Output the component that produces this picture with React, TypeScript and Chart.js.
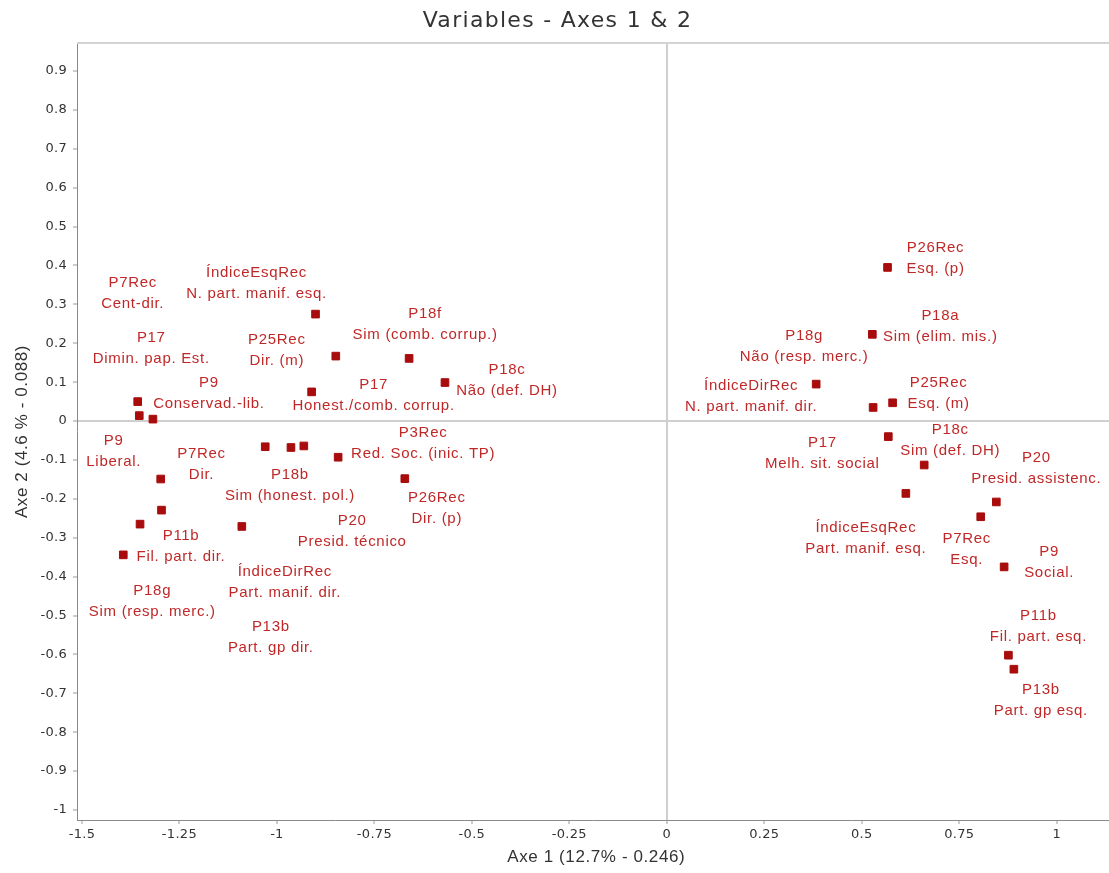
import React, { useEffect, useRef } from 'react';
import { Chart, registerables } from 'chart.js';

Chart.register(...registerables);

// ---------- DATA ----------
const chartTitle = 'Variables - Axes 1 & 2';
const xAxisTitle = 'Axe 1 (12.7% - 0.246)';
const yAxisTitle = 'Axe 2 (4.6 % - 0.088)';

const variableNames = [
  'ÍndiceEsqRec', 'P25Rec', 'P18f', 'P18c', 'P17', 'P7Rec', 'P17', 'P9', 'P20',
  'P18b', 'P13b', 'P3Rec', 'P26Rec', 'P9', 'P7Rec', 'P11b', 'ÍndiceDirRec', 'P18g',
  'P26Rec', 'P18a', 'ÍndiceDirRec', 'P18g', 'P25Rec', 'P17', 'P18c', 'ÍndiceEsqRec',
  'P20', 'P7Rec', 'P9', 'P11b', 'P13b',
];

const categoryNames = [
  'N. part. manif. esq.', 'Dir. (m)', 'Sim (comb. corrup.)', 'Não (def. DH)',
  'Honest./comb. corrup.', 'Cent-dir.', 'Dimin. pap. Est.', 'Conservad.-lib.',
  'Presid. técnico', 'Sim (honest. pol.)', 'Part. gp dir.', 'Red. Soc. (inic. TP)',
  'Dir. (p)', 'Liberal.', 'Dir.', 'Fil. part. dir.', 'Part. manif. dir.',
  'Sim (resp. merc.)',
  'Esq. (p)', 'Sim (elim. mis.)', 'N. part. manif. dir.', 'Não (resp. merc.)',
  'Esq. (m)', 'Melh. sit. social', 'Sim (def. DH)', 'Part. manif. esq.',
  'Presid. assistenc.', 'Esq.', 'Social.', 'Fil. part. esq.', 'Part. gp esq.',
];

const axis1 = [
  -0.901, -0.849, -0.661, -0.569, -0.911, -1.357, -1.353, -1.318, -1.030,
  -0.964, -0.931, -0.843, -0.672, -1.298, -1.296, -1.351, -1.090, -1.394,
  0.566, 0.527, 0.383, 0.529, 0.579, 0.568, 0.660, 0.613, 0.845, 0.805, 0.865, 0.876, 0.890,
];

const axis2 = [
  0.275, 0.167, 0.161, 0.099, 0.075, 0.050, 0.014, 0.005, -0.066,
  -0.068, -0.064, -0.093, -0.148, -0.149, -0.229, -0.265, -0.271, -0.344,
  0.395, 0.223, 0.095, 0.035, 0.047, -0.040, -0.113, -0.186, -0.208, -0.246, -0.375, -0.602, -0.638,
];

const xTickValues = [-1.5, -1.25, -1, -0.75, -0.5, -0.25, 0, 0.25, 0.5, 0.75, 1];
const xTickLabels = ['-1.5', '-1.25', '-1', '-0.75', '-0.5', '-0.25', '0', '0.25', '0.5', '0.75', '1'];
const yTickValues = [-1, -0.9, -0.8, -0.7, -0.6, -0.5, -0.4, -0.3, -0.2, -0.1, 0, 0.1, 0.2, 0.3, 0.4, 0.5, 0.6, 0.7, 0.8, 0.9];
const yTickLabels = ['-1', '-0.9', '-0.8', '-0.7', '-0.6', '-0.5', '-0.4', '-0.3', '-0.2', '-0.1', '0', '0.1', '0.2', '0.3', '0.4', '0.5', '0.6', '0.7', '0.8', '0.9'];

// ---------- LAYOUT (label placement, pixel offsets of first line centre from point) ----------
const labelOffsets: [number, number][] = [
  [-59, -41], [-59, -16], [16, -45], [62, -13], [62, -7], [-5, -119], [12, -78], [56, -36], [87, 74],
  [-1, 27], [-33, 181], [85, -24], [32, 19], [-47, -38], [40, -56], [41, 12], [43, 45], [29, 36],
  [48, -20], [68, -18], [-65, 2], [-69, -72], [46, -20], [-66, 6], [26, -35], [-40, 34],
  [40, -44], [-14, 22], [45, -15], [30, -39], [27, 21],
];

const VIEW_W = 1109;
const VIEW_H = 873;
const CANVAS_W = 1116; // the extra 7px hold Chart.js' right padding and are clipped away
const LABEL_LINE_GAP = 21;
const POINT_COLOR = '#a80c0c';
const LABEL_COLOR = '#c02828';
const TEXT_COLOR = '#333333';

const overlayPlugin = {
  id: 'overlay',
  beforeDraw(chart: any) {
    chart.ctx.letterSpacing = '0.3px';
  },
  beforeDatasetsDraw(chart: any) {
    const { ctx, chartArea } = chart;
    ctx.save();
    ctx.strokeStyle = '#d4d4d4';
    ctx.lineWidth = 2;
    ctx.beginPath();
    ctx.moveTo(chartArea.left, chartArea.top);
    ctx.lineTo(chartArea.right, chartArea.top);
    ctx.stroke();
    ctx.restore();
  },
  afterDatasetsDraw(chart: any) {
    const { ctx } = chart;
    const meta = chart.getDatasetMeta(0);
    ctx.save();
    ctx.font = '15px "Liberation Sans", Arial, sans-serif';
    ctx.letterSpacing = '0.7px';
    ctx.fillStyle = LABEL_COLOR;
    ctx.textAlign = 'center';
    ctx.textBaseline = 'middle';
    meta.data.forEach((pt: any, i: number) => {
      const [dx, dy] = labelOffsets[i];
      ctx.fillText(variableNames[i], pt.x + dx, pt.y + dy);
      ctx.fillText(categoryNames[i], pt.x + dx, pt.y + dy + LABEL_LINE_GAP);
    });
    ctx.restore();
  },
  afterDraw(chart: any) {
    const { ctx, chartArea } = chart;
    ctx.save();
    ctx.fillStyle = TEXT_COLOR;
    ctx.textAlign = 'center';
    ctx.textBaseline = 'middle';
    ctx.font = '22px "DejaVu Sans", sans-serif';
    ctx.letterSpacing = '1.3px';
    ctx.fillText(chartTitle, VIEW_W / 2 + 3, chartArea.top / 2);
    ctx.font = '17px "Liberation Sans", Arial, sans-serif';
    ctx.letterSpacing = '0.6px';
    ctx.fillText(xAxisTitle, (chartArea.left + chartArea.right) / 2 + 3, chartArea.bottom + 37);
    ctx.translate(22, (chartArea.top + chartArea.bottom) / 2);
    ctx.rotate(-Math.PI / 2);
    ctx.fillText(yAxisTitle, 0, 0);
    ctx.restore();
    ctx.letterSpacing = '0px';
  },
};

export default function App() {
  const canvasRef = useRef<HTMLCanvasElement | null>(null);

  useEffect(() => {
    if (!canvasRef.current) return;
    const gridColor = (c: any) => (c.tick && c.tick.value === 0 ? '#cfcfcf' : 'rgba(0,0,0,0)');
    const gridWidth = (c: any) => (c.tick && c.tick.value === 0 ? 2 : 0);
    const chart = new Chart(canvasRef.current, {
      type: 'scatter',
      data: {
        datasets: [
          {
            data: axis1.map((x, i) => ({ x, y: axis2[i] })),
            pointStyle: 'rect',
            pointRadius: 5.4,
            pointBorderWidth: 1,
            backgroundColor: POINT_COLOR,
            borderColor: POINT_COLOR,
          },
        ],
      },
      options: {
        animation: false,
        responsive: false,
        layout: { padding: { top: 43, left: 0, right: 0, bottom: 0 } },
        plugins: {
          legend: { display: false },
          tooltip: { enabled: false },
          title: { display: false },
        },
        scales: {
          x: {
            type: 'linear',
            min: -1.5127,
            max: 1.1355,
            afterBuildTicks: (s: any) => {
              s.ticks = xTickValues.map((v) => ({ value: v }));
            },
            afterFit: (s: any) => {
              s.height = 53;
            },
            ticks: {
              callback: (_v: any, i: number) => xTickLabels[i],
              font: { family: '"DejaVu Sans", sans-serif', size: 13 },
              color: TEXT_COLOR,
              padding: 3,
              maxRotation: 0,
              autoSkip: false,
            },
            grid: {
              color: gridColor,
              lineWidth: gridWidth,
              drawTicks: true,
              tickLength: 4,
              tickColor: '#999999',
              tickWidth: 1,
            },
            border: { display: true, color: '#8a8a8a', width: 1 },
          },
          y: {
            type: 'linear',
            min: -1.0257,
            max: 0.972,
            afterBuildTicks: (s: any) => {
              s.ticks = yTickValues.map((v) => ({ value: v }));
            },
            afterFit: (s: any) => {
              s.width = 77;
            },
            ticks: {
              callback: (_v: any, i: number) => yTickLabels[i],
              font: { family: '"DejaVu Sans", sans-serif', size: 13 },
              color: TEXT_COLOR,
              padding: 6,
              autoSkip: false,
            },
            grid: {
              color: gridColor,
              lineWidth: gridWidth,
              drawTicks: true,
              tickLength: 4,
              tickColor: '#999999',
              tickWidth: 1,
            },
            border: { display: true, color: '#8a8a8a', width: 1 },
          },
        },
      },
      plugins: [overlayPlugin],
    } as any);
    return () => chart.destroy();
  }, []);

  return (
    <div
      style={{
        position: 'absolute',
        left: 0,
        top: 0,
        width: VIEW_W,
        height: VIEW_H,
        overflow: 'hidden',
        background: '#ffffff',
      }}
    >
      <canvas
        ref={canvasRef}
        width={CANVAS_W}
        height={VIEW_H}
        style={{ width: CANVAS_W, height: VIEW_H, display: 'block' }}
      />
    </div>
  );
}
